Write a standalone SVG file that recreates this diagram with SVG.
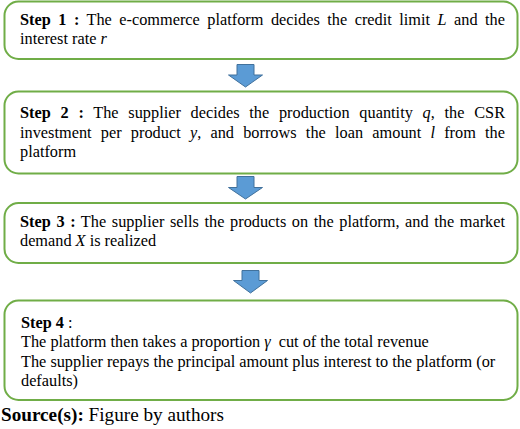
<svg xmlns="http://www.w3.org/2000/svg" width="520" height="429" viewBox="0 0 520 429">
<style>
.box{fill:#ffffff;stroke:#70AD47;stroke-width:2}
.arr{fill:#5B9BD5;stroke:#41719C;stroke-width:1}
text{font-family:"Liberation Serif","Times New Roman",serif;font-size:16.3px;fill:#000}
.b{font-weight:bold}
.i{font-style:italic}
.src{font-size:19.2px}
</style>
<rect width="520" height="429" fill="#ffffff"/>
<g id="connectors">
<path class="arr" d="M237,64.5 H254 V75 H262.5 L245.5,87 L228.5,75 H237 Z"/>
<path class="arr" d="M237,176.5 H254 V187.5 H262.5 L245.5,199 L228.5,187.5 H237 Z"/>
<path class="arr" d="M242,270.5 H259 V280.5 H267.5 L250.5,293 L233.5,280.5 H242 Z"/>
</g>
<g id="step1">
<rect class="box" x="4.5" y="1.5" width="513" height="57.5" rx="14"/>
<text x="20" y="25" word-spacing="3.4" textLength="485" lengthAdjust="spacing"><tspan class="b">Step 1 :</tspan> The e-commerce platform decides the credit limit <tspan class="i">L</tspan> and the</text>
<text x="20" y="44.3">interest rate <tspan class="i">r</tspan></text>
</g>
<g id="step2">
<rect class="box" x="4.5" y="91.5" width="513" height="82" rx="14"/>
<text x="20" y="118.3" word-spacing="5.6" textLength="485" lengthAdjust="spacing"><tspan class="b">Step 2 :</tspan> The supplier decides the production quantity <tspan class="i">q</tspan>, the CSR</text>
<text x="20" y="137.7" word-spacing="5.1" textLength="485" lengthAdjust="spacing">investment per product <tspan class="i">y</tspan>, and borrows the loan amount <tspan class="i">l</tspan> from the</text>
<text x="20" y="156.7">platform</text>
</g>
<g id="step3">
<rect class="box" x="4.5" y="203" width="513" height="60" rx="14"/>
<text x="20" y="226.8" word-spacing="1.5" textLength="485" lengthAdjust="spacing"><tspan class="b">Step 3 :</tspan> The supplier sells the products on the platform, and the market</text>
<text x="20" y="245.5">demand <tspan class="i">X</tspan> is realized</text>
</g>
<g id="step4">
<rect class="box" x="4.5" y="300.5" width="513" height="99.5" rx="14"/>
<text x="21" y="327.5"><tspan class="b">Step 4</tspan> :</text>
<text x="21" y="347">The platform then takes a proportion <tspan class="i">γ</tspan><tspan dx="4"> cut of the total revenue</tspan></text>
<text x="21" y="366.5">The supplier repays the principal amount plus interest to the platform (or</text>
<text x="21" y="385.5">defaults)</text>
</g>
<g id="source">
<text class="src" x="1" y="421"><tspan class="b">Source(s):</tspan> Figure by authors</text>
</g>
</svg>
